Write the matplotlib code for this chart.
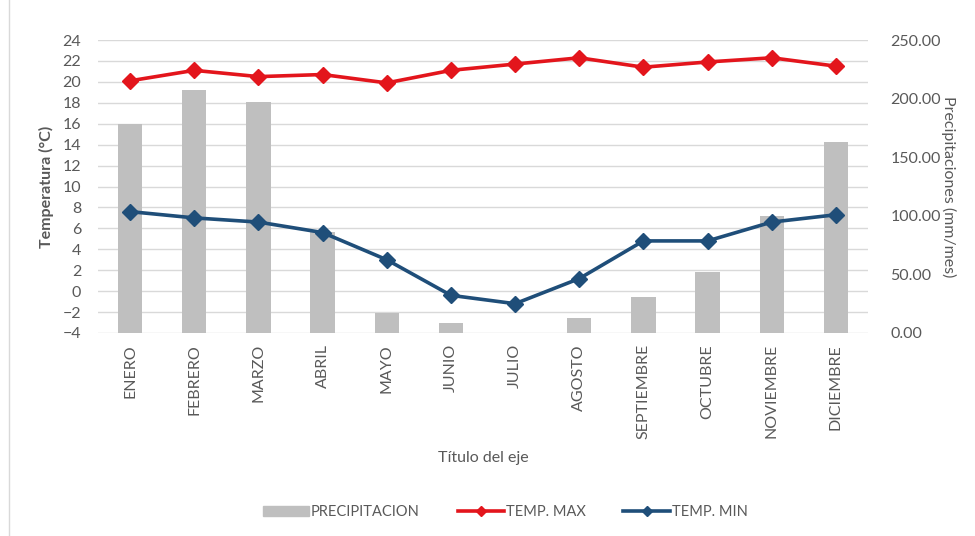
import matplotlib.pyplot as plt
import numpy as np
from matplotlib.lines import Line2D

plt.rcParams['font.family'] = ['Lato', 'DejaVu Sans']

meses = ['ENERO', 'FEBRERO', 'MARZO', 'ABRIL', 'MAYO', 'JUNIO', 'JULIO',
         'AGOSTO', 'SEPTIEMBRE', 'OCTUBRE', 'NOVIEMBRE', 'DICIEMBRE']
precipitacion = [178, 207, 197, 86, 17, 8.5, 0, 13, 31, 52, 100, 163]
temp_max = [20.1, 21.1, 20.5, 20.7, 19.9, 21.1, 21.7, 22.3, 21.4, 21.9, 22.3, 21.5]
temp_min = [7.6, 7.0, 6.6, 5.6, 3.0, -0.4, -1.2, 1.2, 4.8, 4.8, 6.6, 7.3]

gris = '#595959'
x = np.arange(len(meses))

fig = plt.figure(figsize=(9.75, 5.36), dpi=100)
ax = fig.add_axes([98/975, 1-333/536, 770/975, 293/536])
ax2 = ax.twinx()

# barras de precipitacion en el eje derecho, lineas en el izquierdo
ax2.bar(x, precipitacion, width=0.38, color='#BFBFBF', zorder=1)
ax2.set_ylim(0, 250)
ax2.set_yticks(np.arange(0, 251, 50))
ax2.set_yticklabels([f'{v:.2f}' for v in range(0, 251, 50)])

ax.set_zorder(ax2.get_zorder() + 1)
ax.patch.set_visible(False)
ax.plot(x, temp_max, color='#E3151C', lw=2.6, marker='D', ms=8, zorder=3)
ax.plot(x, temp_min, color='#1F4E79', lw=2.6, marker='D', ms=8, zorder=3)
ax.set_ylim(-4, 24)
ax.set_yticks(np.arange(-4, 25, 2))
ax.set_xlim(-0.5, len(meses) - 0.5)
ax.set_xticks(x)
ax.set_xticklabels(meses, rotation=90)

for y in np.arange(-4, 25, 2):
    ax2.axhline((y + 4) / 28 * 250, color='#D9D9D9', lw=1, zorder=0)

for a in (ax, ax2):
    for s in a.spines.values():
        s.set_visible(False)
    a.tick_params(length=0, colors=gris, labelsize=11.5)
ax.tick_params(axis='x', pad=8)
ax.tick_params(axis='y', pad=12)
ax2.tick_params(axis='y', pad=16)

ax.set_ylabel('Temperatura (°C)', color=gris, fontsize=11.5, fontweight='bold', labelpad=6)
ax2.set_ylabel('Precipitaciones (mm/mes)', color=gris, fontsize=11.5, rotation=-90, labelpad=11)
fig.text(483/975, 1-458/536, 'Título del eje', color=gris, fontsize=11.5, ha='center', va='center')

handles = [
    plt.Rectangle((0, 0), 1, 1, color='#BFBFBF'),
    Line2D([], [], color='#E3151C', lw=2.6, marker='D', ms=5),
    Line2D([], [], color='#1F4E79', lw=2.6, marker='D', ms=5),
]
fig.legend(handles, ['PRECIPITACION', 'TEMP. MAX', 'TEMP. MIN'], loc='center',
           bbox_to_anchor=(505/975, 1-512/536), ncol=3, frameon=False,
           fontsize=10.5, labelcolor=gris, handlelength=3.2, handletextpad=0.1,
           columnspacing=2.6)

fig.add_artist(Line2D([9/975, 9/975], [0, 1], color='#D9D9D9', lw=1))

fig.savefig('out.png', dpi=100)
